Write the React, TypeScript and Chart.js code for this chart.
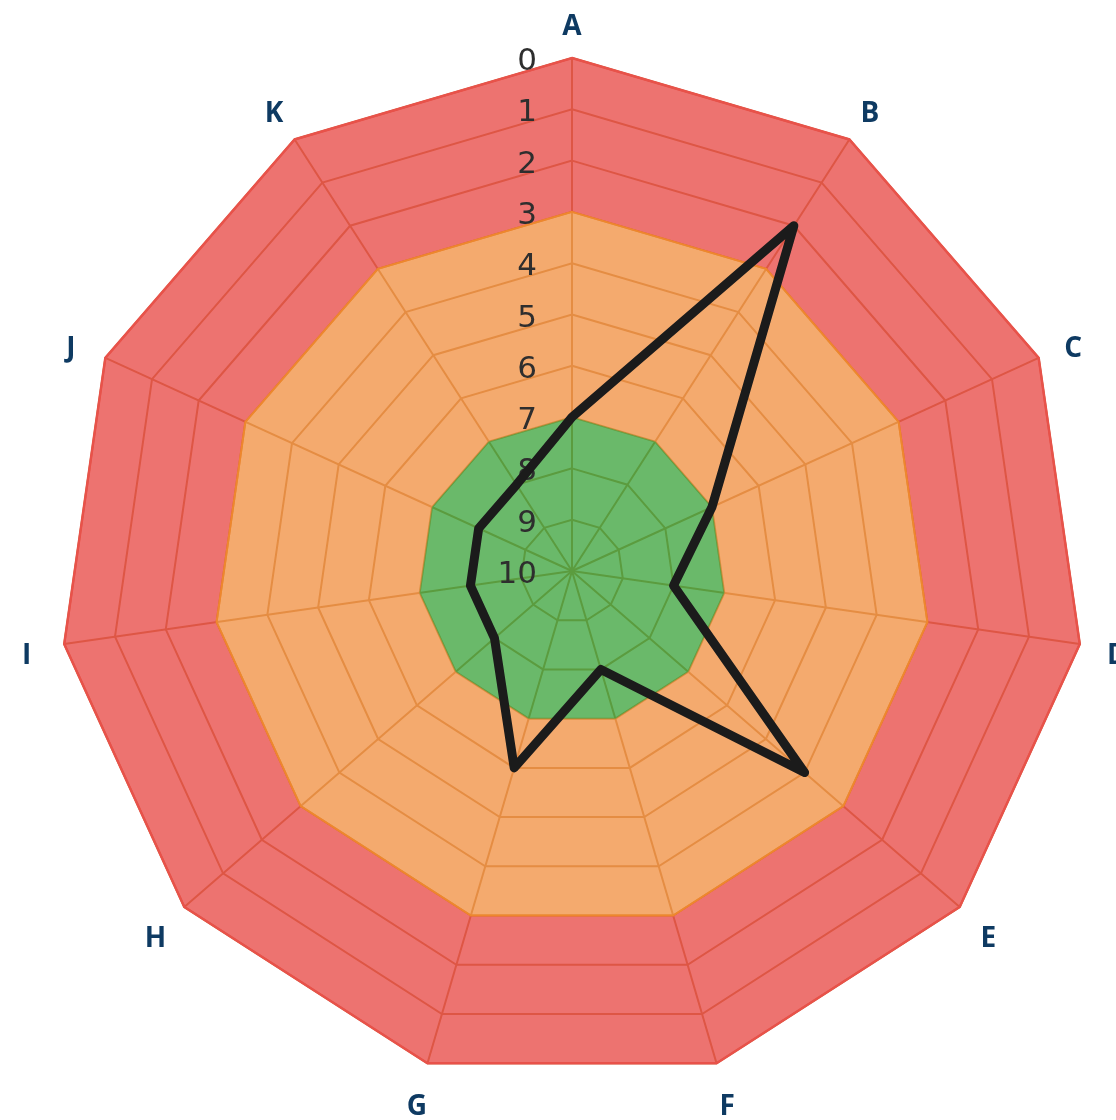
import { useEffect, useRef } from 'react';
import { Chart, registerables } from 'chart.js';

Chart.register(...registerables);

const categories = ['A', 'B', 'C', 'D', 'E', 'F', 'G', 'H', 'I', 'J', 'K'];
const scoreValues = [7, 2, 7, 8, 4, 8, 6, 8, 8, 8, 8];
const redBandValues = [0, 0, 0, 0, 0, 0, 0, 0, 0, 0, 0];
const orangeBandValues = [3, 3, 3, 3, 3, 3, 3, 3, 3, 3, 3];
const greenBandValues = [7, 7, 7, 7, 7, 7, 7, 7, 7, 7, 7];
const scaleMin = 0;
const scaleMax = 10;

const labelPlugin = {
  id: 'customLabels',
  beforeDatasetDraw(chart: any, args: any) {
    if (args.index !== 0) return;
    const scale = chart.scales.r;
    const ctx = chart.ctx;
    ctx.save();
    ctx.font = '31px "DejaVu Sans"';
    ctx.fillStyle = '#2e2e2e';
    ctx.textAlign = 'right';
    ctx.textBaseline = 'middle';
    scale.ticks.forEach((t: any) => {
      const d = scale.getDistanceFromCenterForValue(t.value);
      ctx.fillText(String(t.value), scale.xCenter - 35, scale.yCenter - d + 4);
    });
    ctx.restore();
  },
  afterDraw(chart: any) {
    const scale = chart.scales.r;
    const ctx = chart.ctx;
    ctx.save();
    ctx.font = 'bold 28px "Open Sans"';
    ctx.fillStyle = '#0e3a62';
    ctx.textAlign = 'center';
    ctx.textBaseline = 'middle';
    categories.forEach((c, i) => {
      const p = scale.getPointPosition(i, scale.drawingArea + 38);
      ctx.fillText(c, p.x, p.y + 7);
    });
    ctx.restore();
  },
};

export default function App() {
  const ref = useRef<HTMLCanvasElement>(null);
  useEffect(() => {
    document.body.style.margin = '0';
    document.body.style.overflow = 'hidden';
    if (!ref.current) return;
    const chart = new Chart(ref.current, {
      type: 'radar',
      data: {
        labels: categories,
        datasets: [
          {
            label: 'Score',
            data: scoreValues,
            borderColor: '#1b1b1b',
            borderWidth: 9,
            borderJoinStyle: 'round',
            pointRadius: 0,
            pointHoverRadius: 0,
            fill: false,
          },
          {
            label: 'Green',
            data: greenBandValues,
            backgroundColor: 'rgba(69,168,69,0.8)',
            borderColor: 'rgba(170,150,60,0.6)',
            borderWidth: 1,
            pointRadius: 0,
            fill: 'start',
          },
          {
            label: 'Orange',
            data: orangeBandValues,
            backgroundColor: 'rgba(241,149,74,0.8)',
            borderColor: 'rgb(238,135,45)',
            borderWidth: 2,
            pointRadius: 0,
            fill: 1,
          },
          {
            label: 'Red',
            data: redBandValues,
            backgroundColor: 'rgba(232,80,76,0.8)',
            borderColor: 'rgb(232,82,74)',
            borderWidth: 2.5,
            pointRadius: 0,
            fill: 2,
          },
        ],
      },
      options: {
        responsive: false,
        animation: false,
        layout: { padding: { left: 59, right: 31, top: 58, bottom: 36 } },
        plugins: {
          legend: { display: false },
          tooltip: { enabled: false },
          filler: { drawTime: 'beforeDatasetsDraw' },
        },
        scales: {
          r: {
            min: scaleMin,
            max: scaleMax,
            reverse: true,
            ticks: { display: false, stepSize: 1 },
            grid: { color: 'rgb(180,110,40)', lineWidth: 2 },
            angleLines: { color: 'rgb(180,110,40)', lineWidth: 2 },
            pointLabels: { display: false },
          },
        },
      } as any,
      plugins: [labelPlugin],
    });
    return () => chart.destroy();
  }, []);
  return (
    <div style={{ width: 1116, height: 1120 }}>
      <canvas ref={ref} width={1116} height={1120} style={{ display: 'block' }} />
    </div>
  );
}
